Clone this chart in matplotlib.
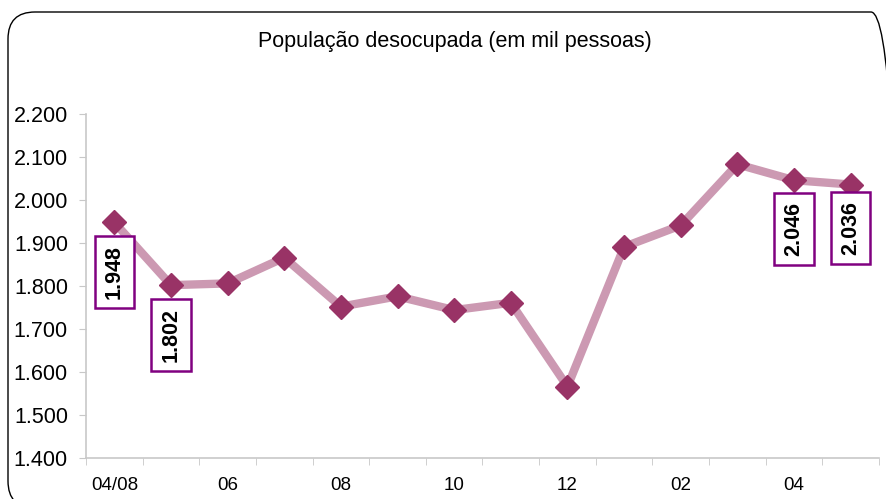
import matplotlib.pyplot as plt
from matplotlib.patches import FancyBboxPatch
from matplotlib.transforms import IdentityTransform
from matplotlib.ticker import FuncFormatter
import numpy as np

plt.rcParams['font.family'] = ['Liberation Sans', 'DejaVu Sans']

meses = ['04/08', '05', '06', '07', '08', '09', '10', '11', '12', '01', '02', '03', '04', '05']
valores = [1948, 1802, 1806, 1866, 1752, 1776, 1744, 1761, 1566, 1891, 1941, 2083, 2046, 2036]
rotulos = {0: '1.948', 1: '1.802', 12: '2.046', 13: '2.036'}
rotulo_offset = {0: -36, 1: -36, 12: -35, 13: -31}

fig = plt.figure(figsize=(8.87, 4.99), dpi=100)
ax = fig.add_axes([86 / 887, 41 / 499, 793 / 887, 344 / 499])

# moldura arredondada (cortada a direita e embaixo)
fig.add_artist(FancyBboxPatch((8, -9), 890, 496, boxstyle='round,pad=0,rounding_size=27',
                              transform=IdentityTransform(), fill=False, lw=1.0, ec='black'))

x = np.arange(len(meses))
ax.plot(x, valores, color='#CC99B2', lw=6, zorder=2)
ax.plot(x, valores, ls='none', marker='D', ms=12.5, color='#993366', zorder=3)

for i, txt in rotulos.items():
    ax.annotate(txt, (x[i], valores[i]), xytext=(0, rotulo_offset[i]), textcoords='offset points',
                ha='center', va='center', rotation=90, fontsize=15.5, fontweight='bold',
                bbox=dict(boxstyle='square,pad=0.42', fc='white', ec='#800080', lw=1.8), zorder=4)

ax.set_xlim(-0.5, len(meses) - 0.5)
ax.set_ylim(1400, 2200)
ax.set_yticks(np.arange(1400, 2201, 100))
ax.yaxis.set_major_formatter(FuncFormatter(lambda v, p: f'{int(v):,}'.replace(',', '.')))
ax.set_xticks(x[::2])
ax.set_xticklabels(meses[::2])
ax.set_xticks(np.arange(-0.5, len(meses), 1), minor=True)

for s in ['top', 'right']:
    ax.spines[s].set_visible(False)
for s in ['left', 'bottom']:
    ax.spines[s].set_color('#C8C8C8')
    ax.spines[s].set_linewidth(1.2)

ax.tick_params(axis='y', length=5, color='#C8C8C8', labelsize=15.5, pad=8)
ax.tick_params(axis='x', which='major', length=0, labelsize=13.5, pad=14)
ax.tick_params(axis='x', which='minor', length=5, color='#C8C8C8')

fig.text(455 / 887, 1 - 42 / 499, 'População desocupada (em mil pessoas)', ha='center', va='center', fontsize=15.5)

fig.savefig('out.png', dpi=100)
